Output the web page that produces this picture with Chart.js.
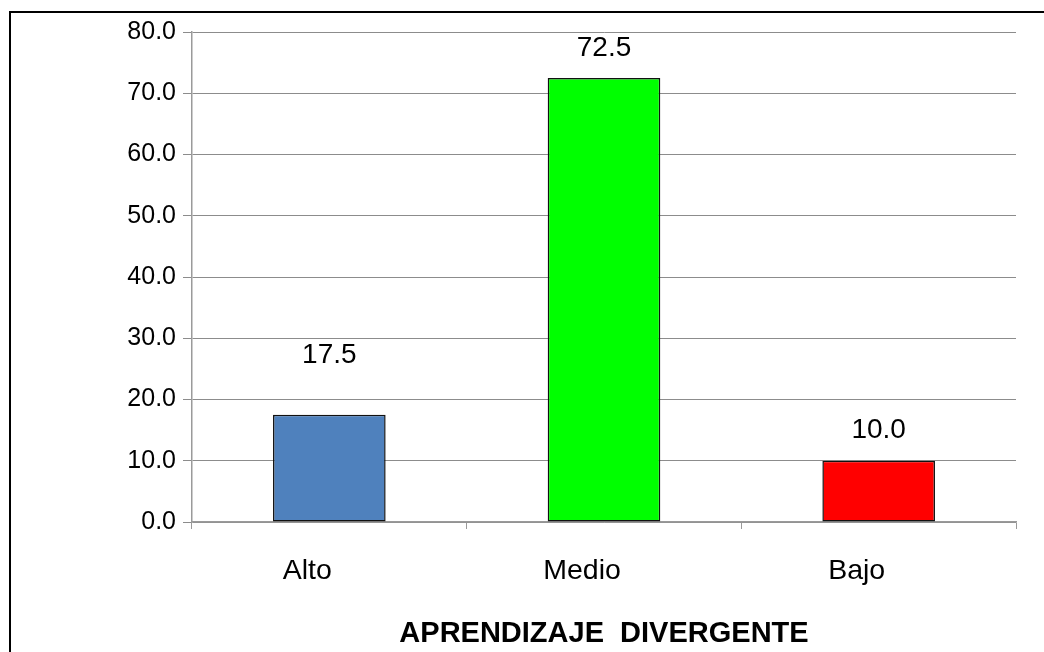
<!DOCTYPE html>
<html>
<head>
<meta charset="utf-8">
<script src="https://cdn.jsdelivr.net/npm/chart.js@4.4.0/dist/chart.umd.min.js"></script>
<style>
  html, body { margin: 0; padding: 0; background: #fff; }
  #wrap { position: relative; width: 1044px; height: 652px; overflow: hidden; }
  #frame { position: absolute; left: 9px; top: 11px; width: 1100px; height: 700px;
           border-left: 2px solid #000; border-top: 2px solid #000; }
  canvas { position: absolute; left: 0; top: 0; }
</style>
</head>
<body>
<div id="wrap">
  <div id="frame"></div>
  <canvas id="chart" width="1044" height="652"></canvas>
</div>
<script>
// chart data
const categories = ['Alto', 'Medio', 'Bajo'];
const values = [17.5, 72.5, 10.0];
const barColors = ['#4F81BD', '#00FF00', '#FF0000'];
const axisTitle = 'APRENDIZAJE  DIVERGENTE';

const fontFamily = "'Liberation Sans', Arial, sans-serif";

// draws the value above each bar (17.5 sits a bit higher, as in the original)
const labelLift = [60, 30, 30];
const valueLabels = {
    id: 'valueLabels',
    afterDatasetsDraw(chart) {
        const ctx = chart.ctx;
        const meta = chart.getDatasetMeta(0);
        ctx.save();
        ctx.font = '28px ' + fontFamily;
        ctx.fillStyle = '#000';
        ctx.textAlign = 'center';
        ctx.textBaseline = 'middle';
        meta.data.forEach(function (bar, i) {
            ctx.fillText(values[i].toFixed(1), bar.x, bar.y - labelLift[i]);
        });
        ctx.restore();
    }
};

const canvas = document.getElementById('chart');
new Chart(canvas, {
    type: 'bar',
    data: {
        labels: categories,
        datasets: [{
            data: values,
            backgroundColor: barColors,
            borderColor: '#111',
            borderWidth: 1.5,
            borderSkipped: false,
            barPercentage: 0.41,
            categoryPercentage: 1
        }]
    },
    options: {
        responsive: false,
        animation: false,
        devicePixelRatio: 1,
        layout: { padding: { top: 32, right: 28, left: 0, bottom: 0 } },
        plugins: {
            legend: { display: false },
            tooltip: { enabled: false }
        },
        scales: {
            x: {
                offset: true,
                grid: {
                    offset: true,
                    drawOnChartArea: false,
                    color: '#9a9a9a',
                    tickLength: 7
                },
                border: { color: '#9a9a9a', width: 1.5 },
                ticks: {
                    color: '#000',
                    padding: 25,
                    labelOffset: -22,
                    font: { family: fontFamily, size: 28.5 }
                },
                title: {
                    display: true,
                    text: axisTitle,
                    color: '#000',
                    font: { family: fontFamily, size: 29, weight: 'bold' },
                    padding: { top: 0, bottom: 1 }
                },
                afterFit: function (scale) { scale.height = 130; }
            },
            y: {
                min: 0,
                max: 80,
                grid: {
                    color: '#8c8c8c',
                    tickLength: 9
                },
                border: { color: '#9a9a9a', width: 1.5 },
                ticks: {
                    stepSize: 10,
                    color: '#000',
                    padding: 7,
                    font: { family: fontFamily, size: 25 },
                    callback: function (v) { return v.toFixed(1); }
                },
                afterFit: function (scale) { scale.width = 192; }
            }
        }
    },
    plugins: [valueLabels]
});
</script>
</body>
</html>
